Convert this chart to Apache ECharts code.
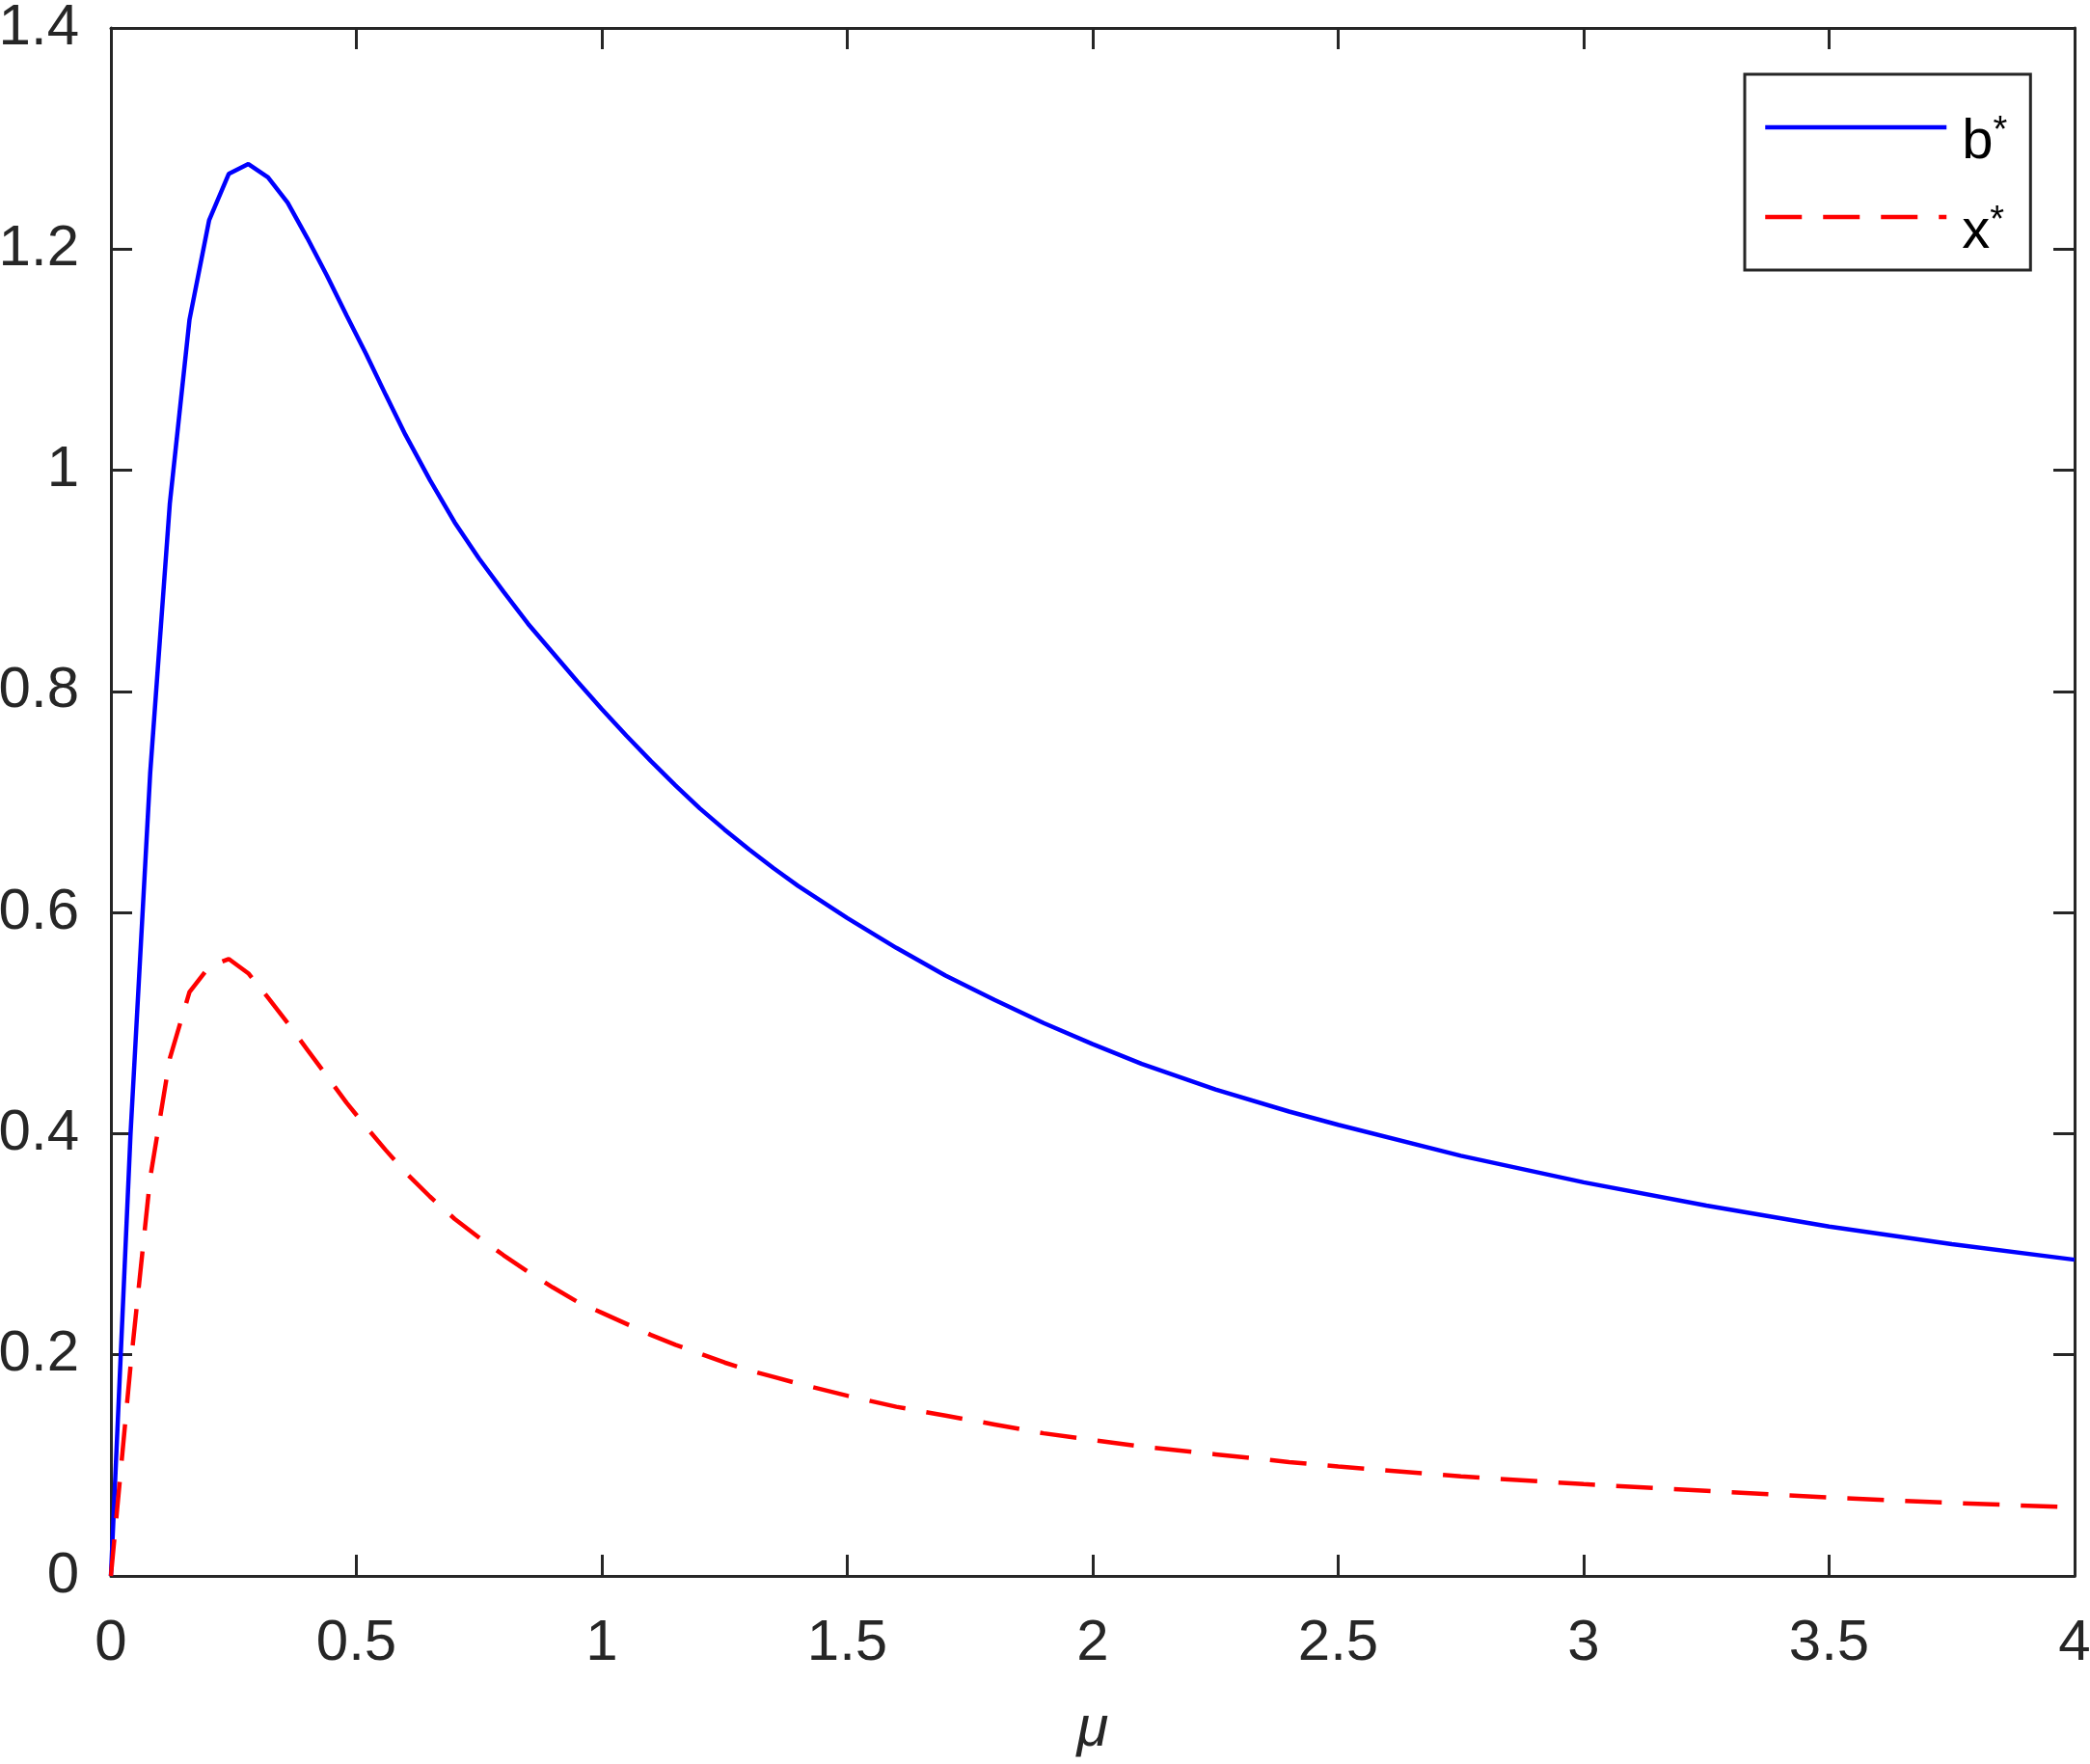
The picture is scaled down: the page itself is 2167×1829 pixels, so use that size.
<!DOCTYPE html>
<html>
<head>
<meta charset="utf-8">
<script src="https://cdn.jsdelivr.net/npm/echarts@6/dist/echarts.min.js"></script>
<style>
  html, body { margin: 0; padding: 0; background: #fff; }
  #myechart { width: 2167px; height: 1829px; }
</style>
</head>
<body>
<div id="myechart"></div>
<script>
// mu samples
var mu = [0, 0.04, 0.08, 0.12, 0.16, 0.20, 0.24, 0.28, 0.32, 0.36, 0.40, 0.44, 0.48, 0.52, 0.56,
  0.60, 0.65, 0.70, 0.75, 0.80, 0.85, 0.90, 0.95, 1.00, 1.05, 1.10, 1.15, 1.20, 1.25, 1.30, 1.35, 1.40,
  1.50, 1.60, 1.70, 1.80, 1.90, 2.00, 2.10, 2.25, 2.40, 2.50, 2.75, 3.00, 3.25, 3.50, 3.75, 4.00];
var bStar = [0, 0.400, 0.726, 0.970, 1.136, 1.226, 1.268, 1.277, 1.265, 1.242, 1.210, 1.176, 1.140, 1.105, 1.068,
  1.032, 0.991, 0.953, 0.920, 0.890, 0.861, 0.835, 0.809, 0.784, 0.760, 0.737, 0.715, 0.694, 0.675, 0.657, 0.640, 0.624,
  0.595, 0.568, 0.543, 0.521, 0.500, 0.481, 0.463, 0.440, 0.420, 0.408, 0.380, 0.356, 0.335, 0.316, 0.300, 0.286];
var xStar = [0, 0.190, 0.360, 0.468, 0.528, 0.551, 0.558, 0.545, 0.523, 0.500, 0.476, 0.452, 0.428, 0.406, 0.385,
  0.365, 0.343, 0.323, 0.306, 0.290, 0.275, 0.261, 0.248, 0.238, 0.228, 0.218, 0.209, 0.201, 0.193, 0.186, 0.180, 0.174,
  0.163, 0.153, 0.145, 0.137, 0.129, 0.123, 0.117, 0.110, 0.103, 0.099, 0.090, 0.083, 0.077, 0.071, 0.066, 0.062];
var seriesNames = ['b*', 'x*'];

function pairs(xs, ys) {
  var out = [];
  for (var i = 0; i < xs.length; i++) out.push([xs[i], ys[i]]);
  return out;
}

var font = 'Liberation Sans, Arial, Helvetica, sans-serif';
var ink = '#262626';

var axisCommon = {
  axisLine: { show: true, onZero: false, lineStyle: { color: ink, width: 3 } },
  axisTick: { show: true, inside: true, length: 22, lineStyle: { color: ink, width: 3 } },
  splitLine: { show: false }
};

var myechart = echarts.init(document.getElementById('myechart'), null, { renderer: 'canvas' });

var option = {
  backgroundColor: '#ffffff',
  animation: false,
  grid: { left: 115, right: 16, top: 29, bottom: 195, containLabel: false, outerBoundsMode: 'none' },
  legend: {
    orient: 'vertical',
    left: 1809,
    top: 77,
    padding: [9, 24, 9, 19],
    borderColor: ink,
    borderWidth: 3,
    itemWidth: 188,
    itemHeight: 20,
    itemGap: 1,
    data: seriesNames,
    itemStyle: { opacity: 0 },
    lineStyle: { width: 4.5 },
    formatter: function (name) {
      return name.charAt(0) + '{sup|*}';
    },
    textStyle: {
      fontFamily: font,
      fontSize: 58,
      color: '#000',
      lineHeight: 60,
      padding: [32, 0, 0, 11],
      rich: {
        sup: { fontFamily: font, fontSize: 38, color: '#000', verticalAlign: 'top', lineHeight: 60 }
      }
    }
  },
  xAxis: [
    Object.assign({
      type: 'value', min: 0, max: 4, interval: 0.5, position: 'bottom',
      name: 'μ', nameLocation: 'middle', nameGap: 129,
      nameTextStyle: { fontFamily: font, fontSize: 60, fontStyle: 'italic', color: ink },
      axisLabel: { fontFamily: font, fontSize: 60, color: ink, margin: 40 }
    }, axisCommon),
    Object.assign({
      type: 'value', min: 0, max: 4, interval: 0.5, position: 'top',
      axisLabel: { show: false }
    }, axisCommon)
  ],
  yAxis: [
    Object.assign({
      type: 'value', min: 0, max: 1.4, interval: 0.2, position: 'left',
      axisLabel: { fontFamily: font, fontSize: 60, color: ink, margin: 33 }
    }, axisCommon),
    Object.assign({
      type: 'value', min: 0, max: 1.4, interval: 0.2, position: 'right',
      axisLabel: { show: false }
    }, axisCommon)
  ],
  series: [
    {
      name: seriesNames[0], type: 'line', xAxisIndex: 0, yAxisIndex: 0,
      symbol: 'none', smooth: false,
      lineStyle: { color: '#0000ff', width: 4.5, type: 'solid' },
      itemStyle: { color: '#0000ff' },
      data: pairs(mu, bStar)
    },
    {
      name: seriesNames[1], type: 'line', xAxisIndex: 0, yAxisIndex: 0,
      symbol: 'none', smooth: false,
      lineStyle: { color: '#ff0000', width: 4.5, type: [38, 22] },
      itemStyle: { color: '#ff0000' },
      data: pairs(mu, xStar)
    }
  ]
};

myechart.setOption(option);
</script>
</body>
</html>
